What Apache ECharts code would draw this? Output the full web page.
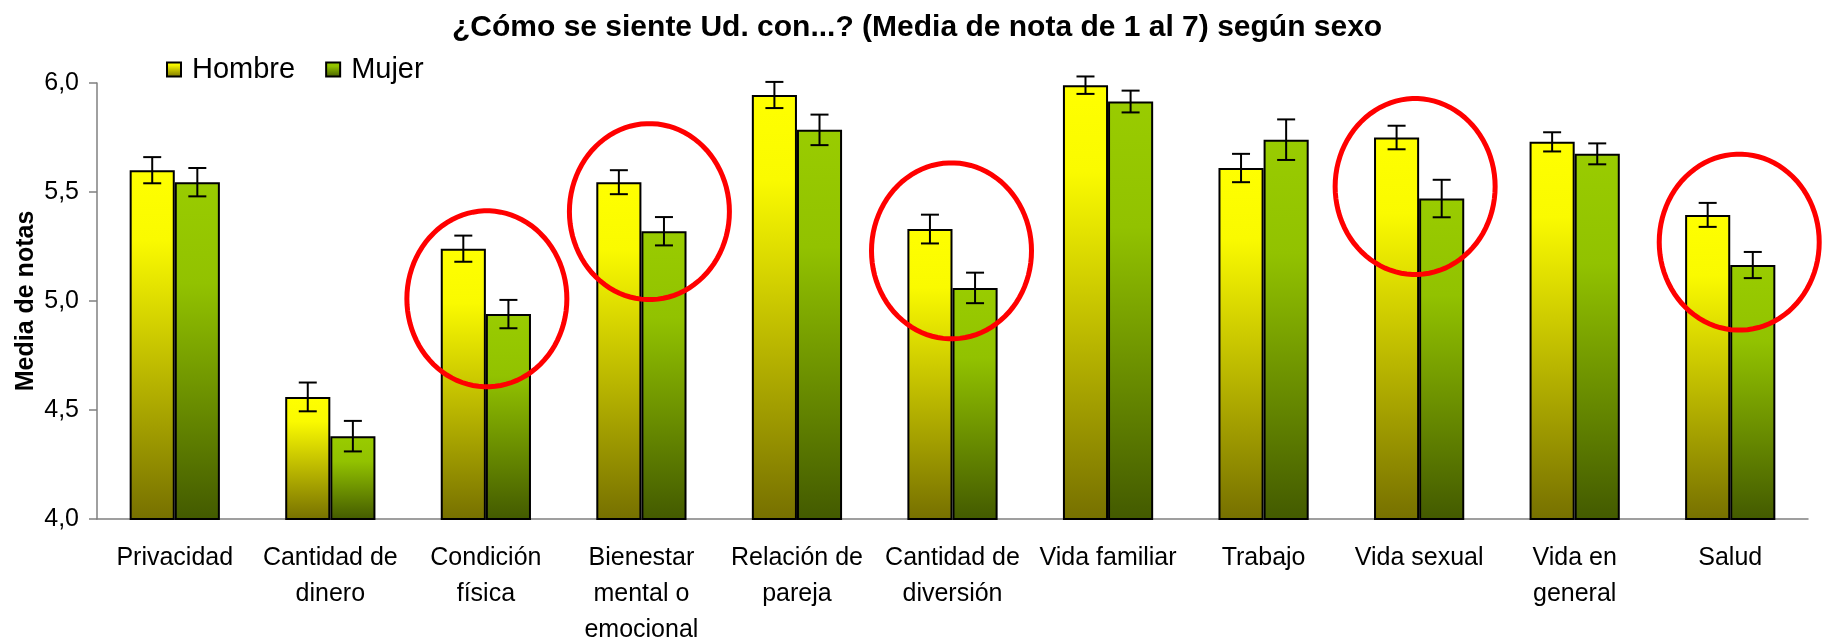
<!DOCTYPE html>
<html>
<head>
<meta charset="utf-8">
<script src="https://cdn.jsdelivr.net/npm/echarts@6/dist/echarts.min.js"></script>
<style>
  html, body { margin: 0; padding: 0; background: #fff; }
  #chart { width: 1826px; height: 639px; }
</style>
</head>
<body>
<div id="chart"></div>
<script>
// categorias (eje X)
const categories = [
  'Privacidad', 'Cantidad de\ndinero', 'Condición\nfísica', 'Bienestar\nmental o\nemocional',
  'Relación de\npareja', 'Cantidad de\ndiversión', 'Vida familiar', 'Trabajo',
  'Vida sexual', 'Vida en\ngeneral', 'Salud'
];
// medias por sexo
const hombre = [5.60, 4.56, 5.24, 5.545, 5.945, 5.33, 5.99, 5.61, 5.75, 5.73, 5.395];
const mujer = [5.545, 4.38, 4.94, 5.32, 5.785, 5.06, 5.915, 5.74, 5.47, 5.675, 5.165];
// error (+/-)
const hombreErr = [0.06, 0.066, 0.06, 0.055, 0.06, 0.066, 0.04, 0.065, 0.054, 0.044, 0.055];
const mujerErr = [0.065, 0.07, 0.065, 0.065, 0.07, 0.07, 0.05, 0.093, 0.086, 0.048, 0.06];
// circulos rojos: categoria y valor del centro
const marcaCat = [2, 3, 5, 8, 10];
const marcaValor = [5.01, 5.41, 5.23, 5.525, 5.27];
const marcaShift = [1, 8, -1, -4, 9];

const FONT = "'Liberation Sans', Arial, sans-serif";
const BAR_FRAC = 0.58;

const gradH = new echarts.graphic.LinearGradient(0, 0, 0, 1, [
  { offset: 0, color: '#ffff00' },
  { offset: 0.2, color: '#fafa00' },
  { offset: 1, color: '#767000' }
]);
const gradM = new echarts.graphic.LinearGradient(0, 0, 0, 1, [
  { offset: 0, color: '#99cc00' },
  { offset: 0.3, color: '#92c200' },
  { offset: 1, color: '#435a00' }
]);

function errorSeries(name, vals, errs, side) {
  return {
    name: name,
    type: 'custom',
    z: 5,
    data: vals.map((v, i) => [i, v, errs[i]]),
    renderItem: (params, api) => {
      const band = api.size([1, 0])[0];
      const dx = side * band * BAR_FRAC / 4;
      const x = api.coord([api.value(0), api.value(1)])[0] + dx;
      const yTop = api.coord([api.value(0), api.value(1) + api.value(2)])[1];
      const yBot = api.coord([api.value(0), api.value(1) - api.value(2)])[1];
      const cap = 9;
      const style = { stroke: '#000', lineWidth: 2 };
      return {
        type: 'group',
        children: [
          { type: 'line', shape: { x1: x, y1: yTop, x2: x, y2: yBot }, style },
          { type: 'line', shape: { x1: x - cap, y1: yTop, x2: x + cap, y2: yTop }, style },
          { type: 'line', shape: { x1: x - cap, y1: yBot, x2: x + cap, y2: yBot }, style }
        ]
      };
    }
  };
}

const chart = echarts.init(document.getElementById('chart'));

const option = {
  animation: false,
  textStyle: { fontFamily: FONT },
  title: {
    text: '¿Cómo se siente Ud. con...? (Media de nota de 1 al 7) según sexo',
    left: 447,
    top: 8,
    textStyle: { fontFamily: FONT, fontSize: 30, fontWeight: 'bold', color: '#000' }
  },
  legend: {
    data: ['Hombre', 'Mujer'],
    left: 161,
    top: 50,
    icon: 'rect',
    itemWidth: 14,
    itemHeight: 14,
    itemGap: 30,
    textStyle: { fontFamily: FONT, fontSize: 29, color: '#000', padding: [0, 0, 0, 6] }
  },
  grid: { left: 97, right: 18, top: 83, bottom: 120, outerBoundsMode: 'none' },
  xAxis: {
    type: 'category',
    data: categories,
    axisLine: { lineStyle: { color: '#808080', width: 1.5 } },
    axisTick: { length: 8, lineStyle: { color: '#808080', width: 1.5 } },
    axisLabel: {
      interval: 0, margin: 21, fontSize: 25, lineHeight: 36,
      color: '#000', fontFamily: FONT
    }
  },
  yAxis: {
    type: 'value',
    min: 4,
    max: 6,
    interval: 0.5,
    name: 'Media de notas',
    nameLocation: 'middle',
    nameRotate: 90,
    nameGap: 58,
    nameMoveOverlap: false,
    nameTextStyle: { fontFamily: FONT, fontSize: 25, fontWeight: 'bold', color: '#000' },
    splitLine: { show: false },
    axisLine: { show: true, lineStyle: { color: '#808080', width: 1.5 } },
    axisTick: { show: true, length: 8, lineStyle: { color: '#808080', width: 1.5 } },
    axisLabel: {
      margin: 18, fontSize: 25, color: '#000', fontFamily: FONT,
      formatter: v => v.toFixed(1).replace('.', ',')
    }
  },
  series: [
    {
      name: 'Hombre',
      type: 'bar',
      data: hombre,
      barGap: '0%',
      barCategoryGap: '42%',
      itemStyle: { color: gradH, borderColor: '#000', borderWidth: 2 }
    },
    {
      name: 'Mujer',
      type: 'bar',
      data: mujer,
      itemStyle: { color: gradM, borderColor: '#000', borderWidth: 2 }
    },
    errorSeries('errH', hombre, hombreErr, -1),
    errorSeries('errM', mujer, mujerErr, 1),
    {
      name: 'marcas',
      type: 'custom',
      z: 10,
      data: marcaCat.map((c, i) => [c, marcaValor[i], marcaShift[i]]),
      renderItem: (params, api) => {
        const c = api.coord([api.value(0), api.value(1)]);
        const cx = c[0] + api.value(2);
        const rx = 80, ry = 88;
        const pts = [];
        for (let k = 0; k < 90; k++) {
          const t = k / 90 * Math.PI * 2;
          pts.push([cx + rx * Math.cos(t), c[1] + ry * Math.sin(t)]);
        }
        return {
          type: 'polygon',
          shape: { points: pts },
          style: { fill: 'none', stroke: '#ff0000', lineWidth: 5 }
        };
      }
    }
  ]
};

chart.setOption(option);
</script>
</body>
</html>
